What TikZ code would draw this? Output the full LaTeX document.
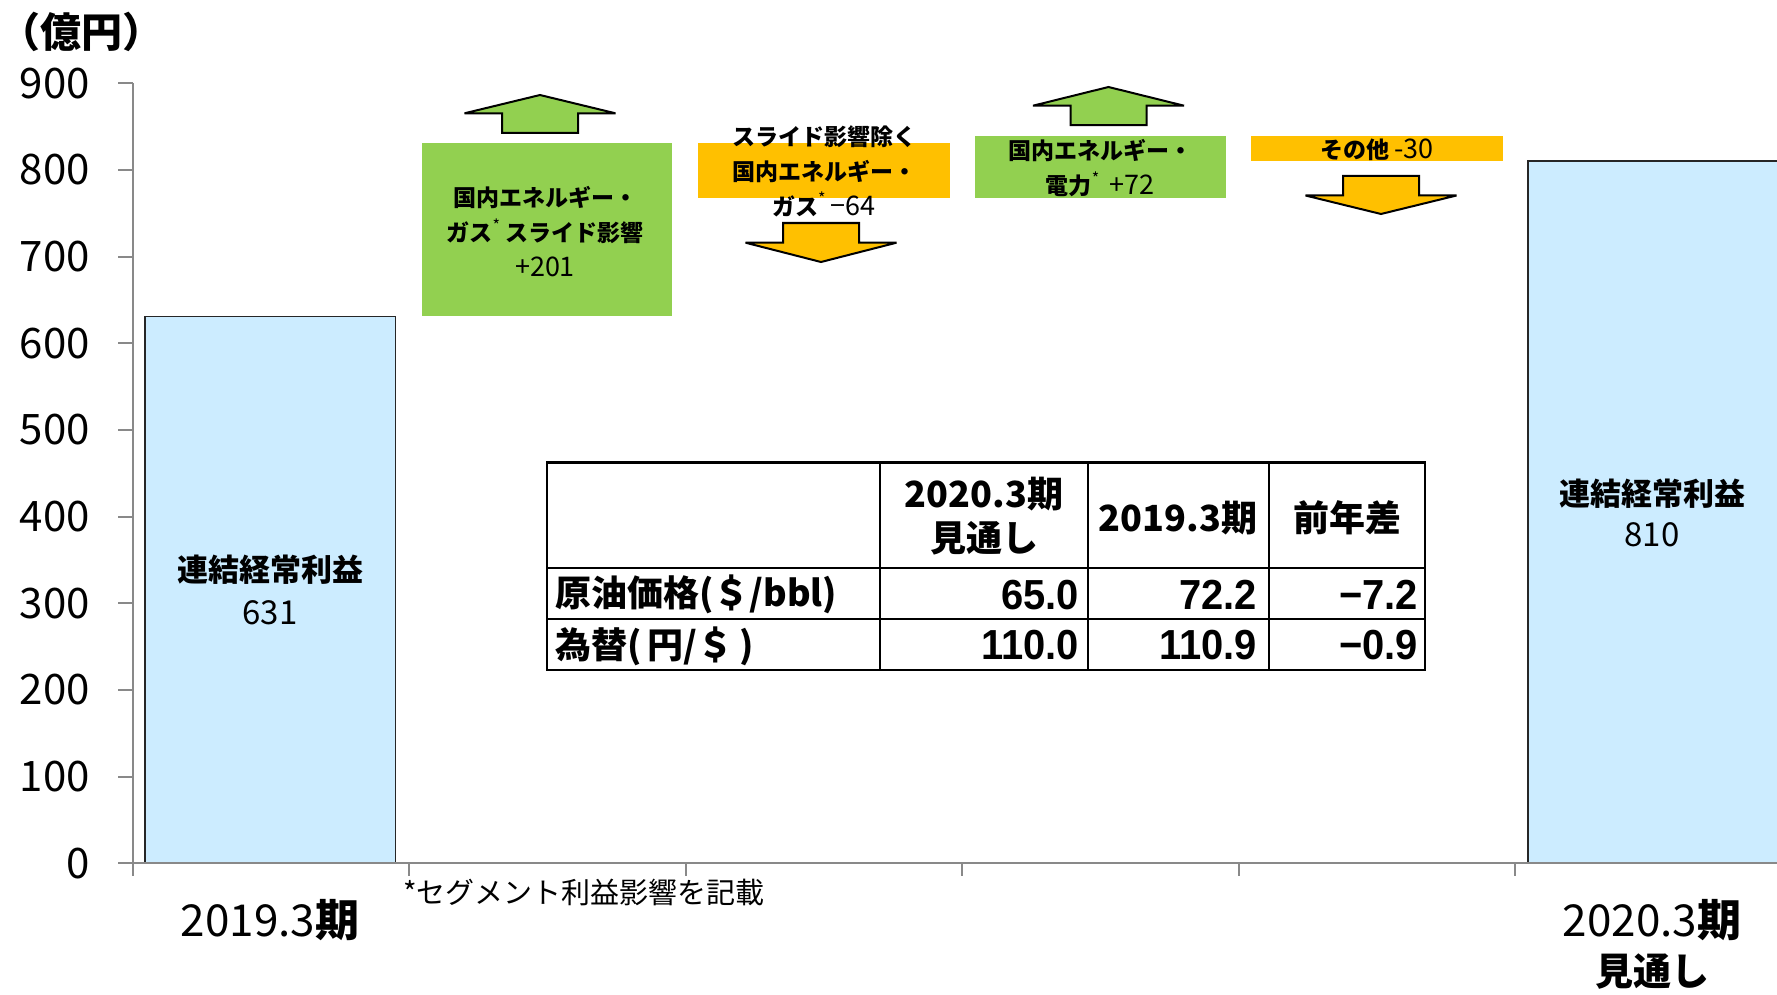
\documentclass[tikz,border=0pt]{standalone}
\usepackage{fontspec}
\setmainfont{Noto Sans CJK JP}
\newfontfamily\numfont{Liberation Sans}
\definecolor{barblue}{HTML}{CCECFF}
\definecolor{grn}{HTML}{92D050}
\definecolor{org}{HTML}{FFC000}
\definecolor{axisgray}{HTML}{898989}
\newcommand{\fs}[2]{\fontsize{#1}{#2}\selectfont}
\newcommand{\astr}{\raisebox{0.45em}{\fs{16}{16}\mdseries *}}
\newcommand{\UpBlk}[5]{%
  \filldraw[blkline, fill=#5] ({#1-75.5},#3) -- (#1,#2) -- ({#1+75.5},#3) -- ({#1+38},#3) -- ({#1+38},#4) -- ({#1-38},#4) -- ({#1-38},#3) -- cycle;}
\newcommand{\DnBlk}[5]{%
  \filldraw[blkline, fill=#5] ({#1-75.5},#3) -- (#1,#2) -- ({#1+75.5},#3) -- ({#1+38},#3) -- ({#1+38},#4) -- ({#1-38},#4) -- ({#1-38},#3) -- cycle;}
\newcommand{\tnum}[1]{\scalebox{0.95}[1]{#1}}
\tikzset{
  axlbl/.style={anchor=east, font=\fs{42}{42}, inner sep=0},
  axline/.style={draw=axisgray, line width=2pt},
  barbox/.style={draw=black!85, line width=1.6pt, fill=barblue},
  blkline/.style={draw=black, line width=2pt, line join=miter, miter limit=1.5},
  boxtxt/.style={align=center, font=\fs{23}{35}\bfseries, inner sep=0},
  tbltxt/.style={font=\fs{36}{44}\bfseries, inner sep=0},
  tblnum/.style={font=\numfont\fs{42}{44}\bfseries, inner sep=0, anchor=east},
}
\begin{document}
\begin{tikzpicture}[x=1pt,y=-1pt]
\useasboundingbox (0,0) rectangle (1777,995);
\fill[white] (0,0) rectangle (1777,995);

% unit
\node[font=\fs{41}{41}\bfseries, anchor=west, inner sep=0] (unit) at (-1,32) {（億円）};

% bars
\draw[barbox] (145,863.3) rectangle (395.5,316.4);
\draw[barbox] (1528,863.3) rectangle (1790,161.3);

% axes
\draw[axline] (132.6,83.3) -- (132.6,863.3);
\foreach \v in {0,100,...,900} {
  \draw[axline] (118,{863.3-0.8667*\v}) -- (132.6,{863.3-0.8667*\v});
  \node[axlbl] (yl\v) at (90,{863.3-0.8667*\v}) {\v};
}
\draw[axline] (132.6,863.3) -- (1777,863.3);
\foreach \k in {0,...,5} {
  \draw[axline] ({132.6+276.5*\k},863.3) -- ({132.6+276.5*\k},876);
}

% bar labels
\node[font=\fs{31}{31}\bfseries, inner sep=0] (b1t) at (270,570) {連結経常利益};
\node[font=\fs{33}{33}, inner sep=0] (b1v) at (270,613) {631};
\node[font=\fs{31}{31}\bfseries, inner sep=0] (b2t) at (1652,494) {連結経常利益};
\node[font=\fs{33}{33}, inner sep=0] (b2v) at (1652,535) {810};

% category labels
\node[font=\fs{44}{44}, inner sep=0] (c1) at (270,920) {2019.3{\bfseries 期}};
\node[font=\fs{44}{44}, inner sep=0] (c2) at (1652,920) {2020.3{\bfseries 期}};
\node[font=\fs{38}{38}\bfseries, inner sep=0] (c2b) at (1652,972) {見通し};
\node[font=\fs{29}{29}, inner sep=0, anchor=west] (foot) at (403,892) {*セグメント利益影響を記載};

% step boxes
\fill[grn] (421.6,142.8) rectangle (672,316.4);
\node[boxtxt] (g1) at (545,232) {国内エネルギー・\\ガス\astr\ スライド影響\\{\mdseries\fs{27}{35}+201}};
\fill[org] (698,142.8) rectangle (950,198);
\node[boxtxt] (o1) at (824,171) {スライド影響除く\\国内エネルギー・\\ガス\astr\ {\mdseries\fs{27}{35}−64}};
\fill[grn] (974.7,135.7) rectangle (1226,198);
\node[boxtxt] (g2) at (1100,168.5) {国内エネルギー・\\電力\astr\ {\mdseries\fs{27}{35}\,+72}};
\fill[org] (1251,136) rectangle (1503,161.3);
\node[boxtxt] (o2) at (1377,150) {その他 {\mdseries\fs{27}{35}-30}};

% block arrows
\UpBlk{540}{95}{113.3}{133}{grn}
\DnBlk{821}{262}{242.7}{223}{org}
\UpBlk{1108.5}{87}{105.7}{125.2}{grn}
\DnBlk{1381}{214}{195.5}{175.8}{org}

% table
\fill[white] (547,462.4) rectangle (1425,669.8);
\draw[line width=2pt] (547,567.8) -- (1425,567.8);
\draw[line width=2pt] (547,618.8) -- (1425,618.8);
\draw[line width=2pt] (880,462.4) -- (880,669.8);
\draw[line width=2pt] (1088,462.4) -- (1088,669.8);
\draw[line width=2pt] (1269,462.4) -- (1269,669.8);
\draw[line width=2.5pt] (547,462.4) rectangle (1425,669.8);
\node[tbltxt, align=center] (h2) at (984,516) {2020.3期\\見通し};
\node[tbltxt] (h3) at (1178,518) {2019.3期};
\node[tbltxt] (h4) at (1347,518) {前年差};
\node[tbltxt, anchor=west] (r1) at (555,594) {原油価格(＄/bbl)};
\node[tbltxt, anchor=west] (r2) at (555,646) {為替(\,円/＄\,)};
\node[tblnum] (r1a) at (1079,595) {\tnum{65.0}};
\node[tblnum] (r1b) at (1257,595) {\tnum{72.2}};
\node[tblnum] (r1c) at (1418,595) {\tnum{−7.2}};
\node[tblnum] (r2a) at (1079,645) {\tnum{110.0}};
\node[tblnum] (r2b) at (1257,645) {\tnum{110.9}};
\node[tblnum] (r2c) at (1418,645) {\tnum{−0.9}};
\end{tikzpicture}
\end{document}
